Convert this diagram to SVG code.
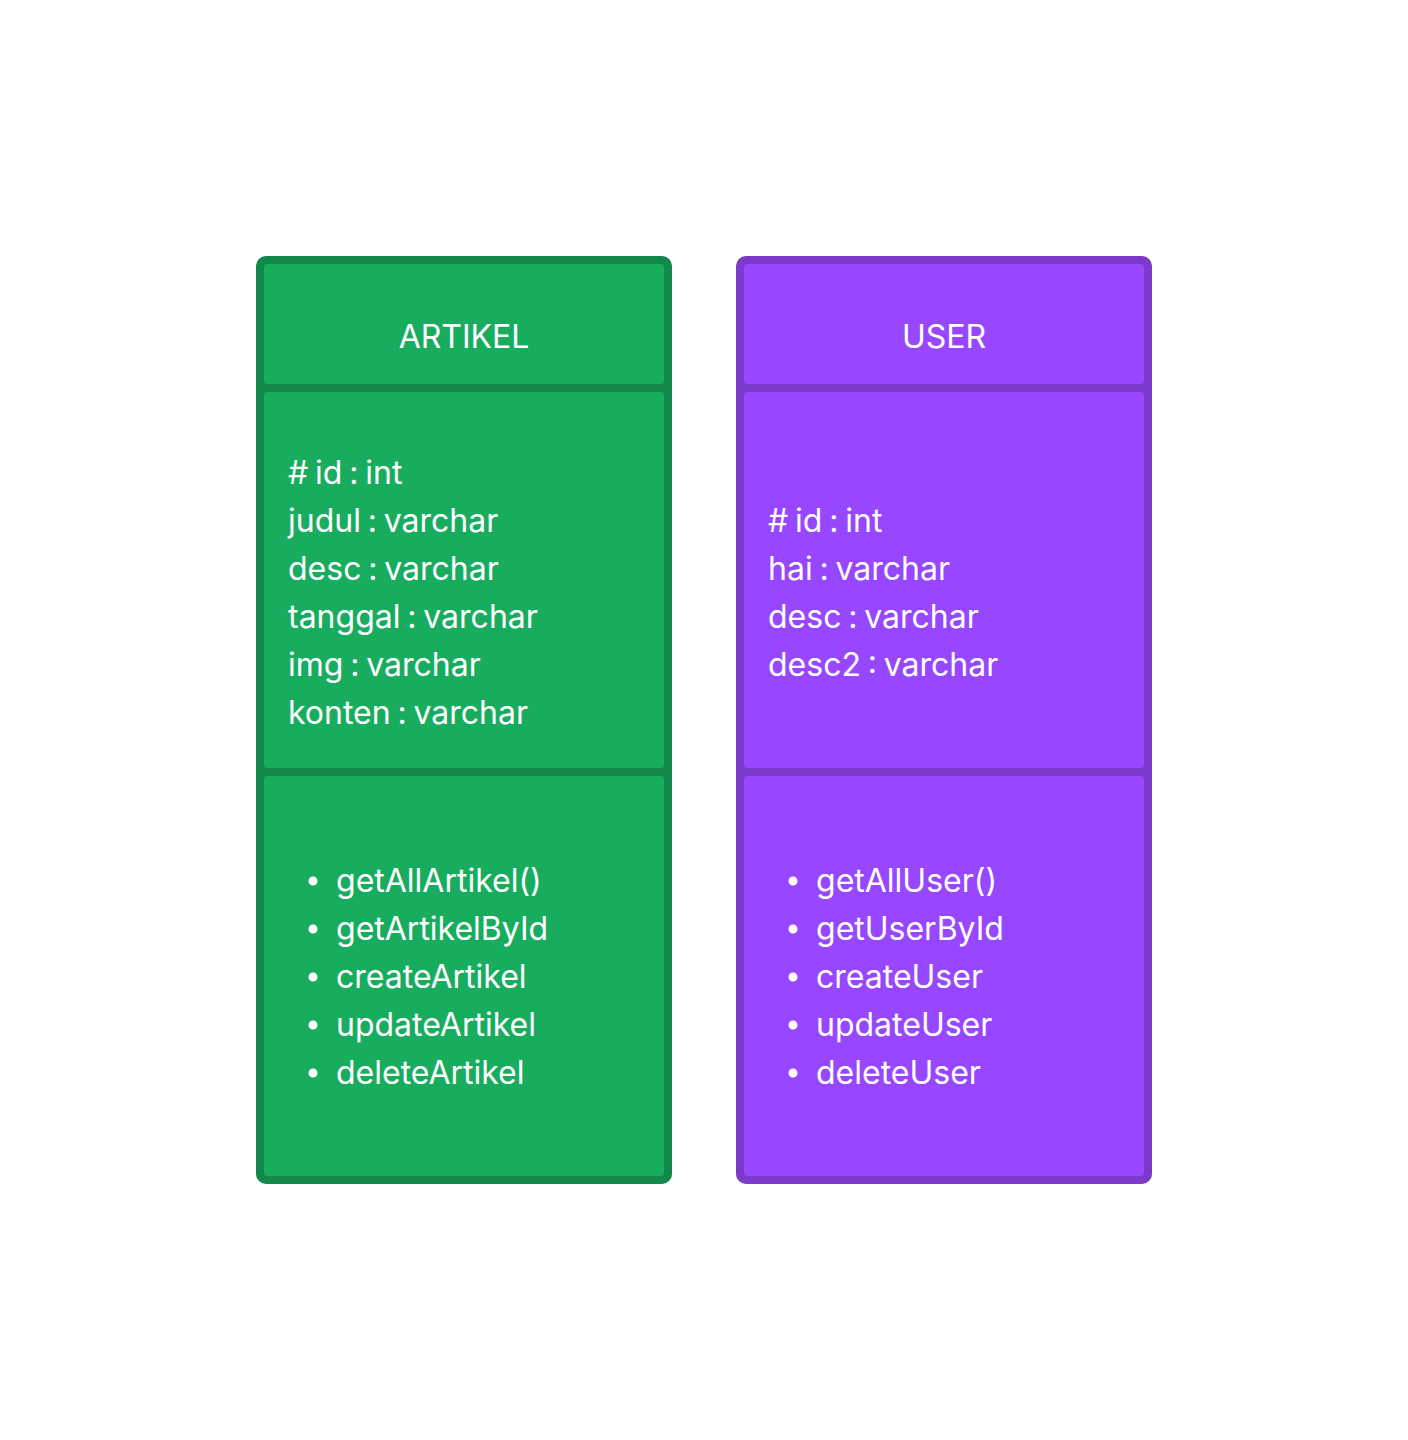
<svg xmlns="http://www.w3.org/2000/svg" width="1408" height="1440" viewBox="0 0 1408 1440">
<style>
text{font-family:Inter,"Noto Sans","Liberation Sans",sans-serif;font-size:32px;fill:#ffffff}
.title{text-anchor:middle}
.attr{word-spacing:-2.2px}
.g-out{fill:#12894A}
.g-in{fill:#18AD5E}
.p-out{fill:#7B3AC9}
.p-in{fill:#9747FF}
</style>
<rect width="1408" height="1440" fill="#ffffff"/>
<g id="artikel">
<rect class="g-out" x="256" y="256" width="416" height="928" rx="10"/>
<rect class="g-in" x="264" y="264" width="400" height="120" rx="3"/>
<rect class="g-in" x="264" y="392" width="400" height="376" rx="3"/>
<rect class="g-in" x="264" y="776" width="400" height="400" rx="3"/>
<text class="title" x="464" y="348">ARTIKEL</text>
<text class="attr" x="288" y="484"># id : int</text>
<text class="attr" x="288" y="532">judul : varchar</text>
<text class="attr" x="288" y="580">desc : varchar</text>
<text class="attr" x="288" y="628">tanggal : varchar</text>
<text class="attr" x="288" y="676">img : varchar</text>
<text class="attr" x="288" y="724">konten : varchar</text>
<g fill="#ffffff">
<circle cx="313" cy="881" r="4.5"/>
<circle cx="313" cy="929" r="4.5"/>
<circle cx="313" cy="977" r="4.5"/>
<circle cx="313" cy="1025" r="4.5"/>
<circle cx="313" cy="1073" r="4.5"/>
</g>
<text x="336" y="892">getAllArtikel()</text>
<text x="336" y="940">getArtikelById</text>
<text x="336" y="988">createArtikel</text>
<text x="336" y="1036">updateArtikel</text>
<text x="336" y="1084">deleteArtikel</text>
</g>
<g id="user">
<rect class="p-out" x="736" y="256" width="416" height="928" rx="10"/>
<rect class="p-in" x="744" y="264" width="400" height="120" rx="3"/>
<rect class="p-in" x="744" y="392" width="400" height="376" rx="3"/>
<rect class="p-in" x="744" y="776" width="400" height="400" rx="3"/>
<text class="title" x="944" y="348">USER</text>
<text class="attr" x="768" y="532"># id : int</text>
<text class="attr" x="768" y="580">hai : varchar</text>
<text class="attr" x="768" y="628">desc : varchar</text>
<text class="attr" x="768" y="676">desc2 : varchar</text>
<g fill="#ffffff">
<circle cx="793" cy="881" r="4.5"/>
<circle cx="793" cy="929" r="4.5"/>
<circle cx="793" cy="977" r="4.5"/>
<circle cx="793" cy="1025" r="4.5"/>
<circle cx="793" cy="1073" r="4.5"/>
</g>
<text x="816" y="892">getAllUser()</text>
<text x="816" y="940">getUserById</text>
<text x="816" y="988">createUser</text>
<text x="816" y="1036">updateUser</text>
<text x="816" y="1084">deleteUser</text>
</g>
<g id="connectors"/>
</svg>
